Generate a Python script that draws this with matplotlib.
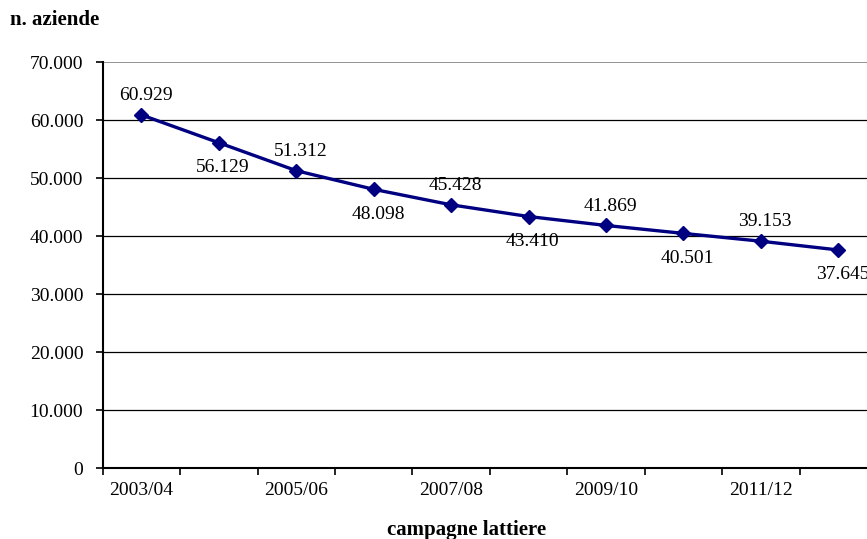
import matplotlib
matplotlib.use("Agg")
import matplotlib.pyplot as plt
from matplotlib.ticker import FixedLocator, NullFormatter

plt.rcParams['font.family'] = ['Liberation Serif', 'DejaVu Serif']

campagne = ["2003/04", "2004/05", "2005/06", "2006/07", "2007/08",
            "2008/09", "2009/10", "2010/11", "2011/12", "2012/13"]
aziende = [60929, 56129, 51312, 48098, 45428, 43410, 41869, 40501, 39153, 37645]
label_pos = ["above", "below", "above", "below", "above",
             "below", "above", "below", "above", "below"]
y_ticks = [0, 10000, 20000, 30000, 40000, 50000, 60000, 70000]


def fmt_it(v):
    return f"{v:,}".replace(",", ".")


fig = plt.figure(figsize=(8.67, 5.39), dpi=100)
ax = fig.add_axes([0.1185, 0.1312, 0.8930, 0.7532])

n = len(campagne)
x = list(range(n))
ax.set_xlim(-0.5, n - 0.5)
ax.set_ylim(0, 70000)

# horizontal gridlines
for yv in y_ticks[1:-1]:
    ax.axhline(yv, color="black", lw=0.9, zorder=1)
ax.axhline(70000, color="#808080", lw=1.2, zorder=1)

ax.plot(x, aziende, color="#000080", lw=2.4, marker="D", markersize=7,
        markerfacecolor="#000080", markeredgecolor="#000080", zorder=3,
        clip_on=False)

for xi, v, pos in zip(x, aziende, label_pos):
    dy = 14 if pos == "above" else -18
    ax.annotate(fmt_it(v), (xi, v), xytext=(3, dy), textcoords="offset points",
                ha="center", va="center", fontsize=14, color="black",
                annotation_clip=False)

for s in ["top", "right"]:
    ax.spines[s].set_visible(False)
ax.spines["left"].set_linewidth(1.5)
ax.spines["bottom"].set_linewidth(1.5)

ax.yaxis.set_major_locator(FixedLocator(y_ticks))
ax.set_yticklabels([fmt_it(v) for v in y_ticks], fontsize=14)
ax.tick_params(axis="y", length=5, width=1.2, pad=9)

# ticks at category boundaries, labels on every other category
ax.xaxis.set_major_locator(FixedLocator([i - 0.5 for i in range(n + 1)]))
ax.xaxis.set_major_formatter(NullFormatter())
ax.tick_params(axis="x", which="major", length=5, width=1.2)
ax.xaxis.set_minor_locator(FixedLocator(x[::2]))
ax.set_xticklabels(campagne[::2], minor=True, fontsize=14)
ax.tick_params(axis="x", which="minor", length=0, pad=10)

fig.text(0.012, 0.962, "n. aziende", fontsize=15, fontweight="bold",
         ha="left", va="center")
fig.text(0.538, 0.017, "campagne lattiere", fontsize=15, fontweight="bold",
         ha="center", va="center")

fig.savefig("out.png", dpi=100)
